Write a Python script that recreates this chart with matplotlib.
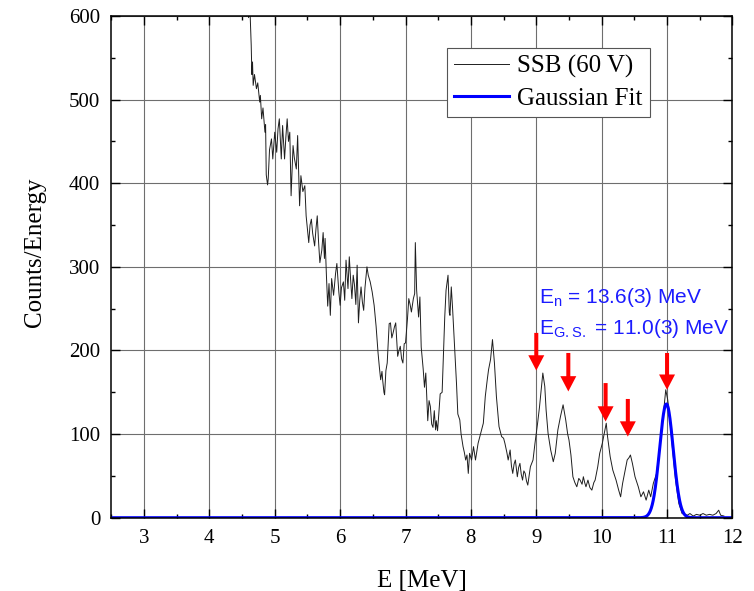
import numpy as np
import matplotlib
matplotlib.use("Agg")
import matplotlib.pyplot as plt
from matplotlib.ticker import MultipleLocator

# Measured SSB (60 V) spectrum: energy [MeV] and counts per energy
energy = [
    4.53, 4.56, 4.58, 4.60, 4.62, 4.64, 4.65, 4.66, 4.67, 4.69, 4.72, 4.74, 4.77, 4.78,
    4.80, 4.82, 4.85, 4.86, 4.87, 4.89, 4.90, 4.92, 4.95, 4.97, 5.00, 5.03, 5.05, 5.07,
    5.10, 5.12, 5.15, 5.17, 5.19, 5.21, 5.23, 5.25, 5.28, 5.30, 5.33, 5.35, 5.38, 5.40,
    5.43, 5.46, 5.48, 5.50, 5.52, 5.54, 5.56, 5.58, 5.61, 5.63, 5.65, 5.67, 5.69, 5.72,
    5.74, 5.76, 5.77, 5.79, 5.81, 5.83, 5.85, 5.87, 5.90, 5.93, 5.95, 5.98, 6.00, 6.02,
    6.05, 6.07, 6.09, 6.12, 6.14, 6.16, 6.18, 6.20, 6.22, 6.24, 6.26, 6.28, 6.30, 6.32,
    6.34, 6.36, 6.38, 6.41, 6.43, 6.46, 6.49, 6.52, 6.55, 6.58, 6.60, 6.62, 6.64, 6.65,
    6.67, 6.68, 6.70, 6.72, 6.75, 6.77, 6.79, 6.81, 6.83, 6.85, 6.88, 6.90, 6.92, 6.94,
    6.96, 6.98, 7.00, 7.03, 7.05, 7.07, 7.09, 7.12, 7.14, 7.15, 7.16, 7.17, 7.20, 7.22,
    7.24, 7.27, 7.29, 7.31, 7.34, 7.36, 7.38, 7.40, 7.42, 7.44, 7.46, 7.47, 7.49, 7.51,
    7.53, 7.56, 7.58, 7.60, 7.62, 7.65, 7.67, 7.68, 7.70, 7.72, 7.75, 7.78, 7.80, 7.83,
    7.85, 7.88, 7.90, 7.92, 7.94, 7.96, 7.98, 8.01, 8.04, 8.07, 8.11, 8.15, 8.19, 8.22,
    8.25, 8.27, 8.30, 8.33, 8.36, 8.39, 8.43, 8.47, 8.50, 8.52, 8.55, 8.57, 8.60, 8.62,
    8.64, 8.66, 8.68, 8.71, 8.73, 8.75, 8.77, 8.79, 8.81, 8.83, 8.85, 8.87, 8.89, 8.91,
    8.95, 8.98, 9.02, 9.05, 9.08, 9.10, 9.13, 9.15, 9.18, 9.22, 9.26, 9.29, 9.33, 9.37,
    9.41, 9.45, 9.48, 9.50, 9.53, 9.56, 9.59, 9.62, 9.65, 9.67, 9.70, 9.72, 9.74, 9.76,
    9.79, 9.82, 9.85, 9.88, 9.90, 9.94, 9.97, 10.01, 10.04, 10.07, 10.09, 10.13, 10.17,
    10.22, 10.26, 10.29, 10.32, 10.36, 10.39, 10.42, 10.44, 10.47, 10.51, 10.56, 10.60,
    10.64, 10.68, 10.72, 10.75, 10.79, 10.84, 10.87, 10.91, 10.95, 10.98, 11.01, 11.04,
    11.08, 11.13, 11.18, 11.23, 11.27, 11.31, 11.35, 11.40, 11.45, 11.50, 11.55, 11.60,
    11.65, 11.70, 11.75, 11.79, 11.82, 11.87,
]
counts = [
    640, 600, 625, 598, 610, 565, 530, 545, 517, 530, 513, 520, 497, 505,
    477, 490, 461, 470, 410, 398, 405, 440, 453, 429, 461, 437, 465, 477,
    429, 469, 429, 455, 477, 450, 461, 385, 445, 430, 417, 457, 373, 409,
    390, 397, 361, 345, 329, 350, 357, 340, 325, 345, 361, 330, 305, 320,
    341, 310, 334, 290, 253, 280, 242, 286, 266, 292, 304, 270, 254, 275,
    282, 260, 308, 274, 312, 285, 262, 290, 278, 255, 302, 233, 260, 276,
    258, 248, 275, 300, 290, 282, 270, 254, 229, 197, 180, 165, 175, 165,
    150, 147, 176, 185, 232, 233, 215, 221, 228, 233, 193, 200, 205, 190,
    185, 208, 209, 238, 262, 255, 246, 262, 268, 329, 300, 272, 240, 264,
    204, 178, 156, 173, 116, 140, 133, 112, 108, 128, 105, 116, 104, 125,
    148, 150, 196, 240, 272, 290, 245, 242, 276, 250, 204, 160, 124, 117,
    100, 85, 78, 69, 75, 53, 77, 69, 85, 69, 89, 101, 113, 145,
    165, 177, 189, 213, 185, 145, 109, 97, 95, 89, 78, 69, 81, 62,
    53, 64, 69, 49, 60, 65, 52, 45, 56, 53, 44, 39, 50, 61,
    69, 89, 113, 133, 157, 173, 157, 129, 101, 81, 67, 77, 105, 121,
    135, 117, 100, 93, 75, 49, 42, 37, 47, 45, 40, 49, 42, 37,
    45, 36, 33, 42, 45, 61, 77, 89, 101, 113, 97, 73, 57,
    45, 33, 25, 41, 57, 69, 72, 75, 65, 49, 37, 25,
    31, 21, 33, 25, 41, 53, 73, 101, 129, 153, 141, 121,
    85, 45, 17, 5, 4, 3, 5, 2, 4, 3, 5, 3,
    4, 3, 5, 9, 3, 2,
]

# Gaussian fit of the ground-state peak
fit_amplitude = 136.0
fit_center = 10.99
fit_sigma = 0.104

# Red markers above the identified peaks: (energy, shaft top, arrow tip)
arrow_energy = [9.00, 9.49, 10.06, 10.40, 11.00]
arrow_top = [221, 197, 161, 142, 197]
arrow_tip = [176, 151, 115, 97, 153]

x_ticks = [3, 4, 5, 6, 7, 8, 9, 10, 11, 12]
y_ticks = [0, 100, 200, 300, 400, 500, 600]

serif = ["Liberation Serif", "DejaVu Serif"]
sans = ["Liberation Sans", "DejaVu Sans"]

fig = plt.figure(figsize=(7.54, 5.91), dpi=100)
ax = fig.add_axes([0.1476, 0.124, 0.8238, 0.849])

ax.grid(True, which="major", color="#6e6e6e", linewidth=0.8)
ax.set_axisbelow(True)

ax.plot(energy, counts, color="#1e1e1e", linewidth=0.7, label="SSB (60 V)", zorder=3)

e_fit = np.linspace(2.5, 12.0, 2000)
g_fit = fit_amplitude * np.exp(-0.5 * ((e_fit - fit_center) / fit_sigma) ** 2)
ax.plot(e_fit, g_fit, color="#0000ff", linewidth=2.2, label="Gaussian Fit", zorder=4)

for e, top, tip in zip(arrow_energy, arrow_top, arrow_tip):
    ax.annotate("", xy=(e, tip), xytext=(e, top),
                arrowprops=dict(width=2.9, headwidth=11.5, headlength=11,
                                shrink=0.0, color="#ff0000", linewidth=0),
                zorder=5)

ax.text(9.04, 257, r"E$_\mathregular{n}$ = 13.6(3) MeV", color="#1c1cff",
        fontsize=15, family=sans, va="baseline", ha="left", zorder=6)
ax.text(9.04, 220, r"E$_\mathregular{G.S.}$ = 11.0(3) MeV", color="#1c1cff",
        fontsize=15, family=sans, va="baseline", ha="left", zorder=6)

ax.set_xlim(2.5, 12.0)
ax.set_ylim(0, 600)
ax.set_xticks(x_ticks)
ax.set_yticks(y_ticks)
ax.xaxis.set_minor_locator(MultipleLocator(0.5))
ax.yaxis.set_minor_locator(MultipleLocator(50))
ax.tick_params(which="both", direction="in", top=True, right=True,
               labelsize=15, width=1.0, pad=8)
ax.tick_params(which="major", length=6.5)
ax.tick_params(which="minor", length=3.2)
for lab in ax.get_xticklabels() + ax.get_yticklabels():
    lab.set_family(serif)
for sp in ax.spines.values():
    sp.set_linewidth(1.1)
    sp.set_zorder(5)

ax.set_xlabel("E [MeV]", fontsize=18, family=serif, labelpad=16)
ax.set_ylabel("Counts/Energy", fontsize=18, family=serif)
ax.yaxis.set_label_coords(-0.105, 0.53)

leg = ax.legend(loc="upper left", bbox_to_anchor=(0.5403, 0.936), borderaxespad=0,
                fancybox=False, framealpha=1, edgecolor="#555555",
                prop={"family": serif, "size": 18}, handlelength=2.2,
                handletextpad=0.35, labelspacing=0.38, borderpad=0.27)
leg.get_frame().set_linewidth(0.8)

fig.savefig("out.png", dpi=100)
